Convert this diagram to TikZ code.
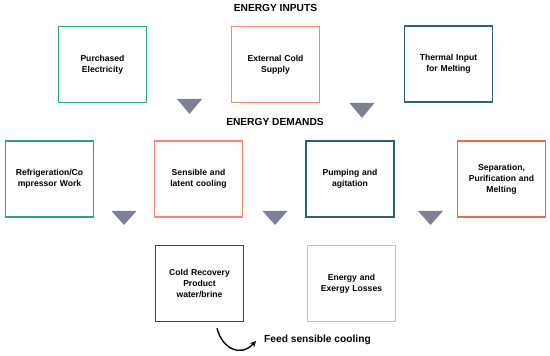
\documentclass[tikz,border=0pt]{standalone}
\usepackage{fontspec}
\setmainfont{Liberation Sans}
\usetikzlibrary{arrows.meta}
\definecolor{cgreen}{HTML}{26A681}
\definecolor{csalmon}{HTML}{F4876F}
\definecolor{cblue}{HTML}{2F5F86}
\definecolor{corange}{HTML}{F26A45}
\definecolor{cslate}{HTML}{2E4B57}
\definecolor{cyellow}{HTML}{F5BC55}
\definecolor{ctri}{HTML}{7E8098}
\begin{document}
\begin{tikzpicture}[x=1pt,y=1pt,
  box/.style={draw=#1,line width=1.6pt,minimum width=88pt,minimum height=76pt,inner sep=0pt,
    align=center,font=\fontsize{8.6}{11}\selectfont\bfseries,text width=80pt},
  ttl/.style={font=\fontsize{10.2}{12}\selectfont\bfseries,inner sep=0pt},
  tri/.style={fill=ctri}]
\useasboundingbox (0,0) rectangle (550,356);
\node[ttl] (tin) at (275.5,348) {ENERGY INPUTS};
\node[ttl] (tdem) at (275,234) {ENERGY DEMANDS};
% row 1
\node[box=cgreen] (pe) at (102.5,291.5) {Purchased\\Electricity};
\node[box=csalmon] (ecs) at (275.5,291.5) {External Cold\\Supply};
\node[box=cblue] (ti) at (448.5,292) {Thermal Input\\for Melting};
% row 2
\node[box=cgreen] (rc) at (49.5,177) {Refrigeration/Co\\mpressor Work};
\node[box=csalmon] (sl) at (198.5,177) {Sensible and\\latent cooling};
\node[box=cblue] (pa) at (350,177) {Pumping and\\agitation};
\node[box=corange] (sp) at (501.5,177) {Separation,\\Purification and\\Melting};
% row 3
\node[box=cslate] (cr) at (199.5,72.5) {Cold Recovery\\Product\\water/brine};
\node[box=cyellow] (el) at (351.5,72.5) {Energy and\\Exergy Losses};
% triangles
\fill[tri] (177,257) -- (202,257) -- (189.5,242) -- cycle;
\fill[tri] (349.5,253) -- (374.5,253) -- (362,238) -- cycle;
\fill[tri] (111.5,145) -- (136.5,145) -- (124,131) -- cycle;
\fill[tri] (262.5,145) -- (287.5,145) -- (275,131) -- cycle;
\fill[tri] (418,145) -- (443,145) -- (430.5,131) -- cycle;
% feed
\node[ttl,anchor=west] (feed) at (264,16) {Feed sensible cooling};
\coordinate (fs) at ([xshift=17.5pt,yshift=-6pt]cr.south);
\coordinate (fe) at ([xshift=-8pt,yshift=-1pt]feed.west);
\draw[line width=1.4pt,-{Stealth[length=6pt,width=6pt]}] (fs) .. controls (222,8) and (240,-2) .. (fe);
\end{tikzpicture}
\end{document}
